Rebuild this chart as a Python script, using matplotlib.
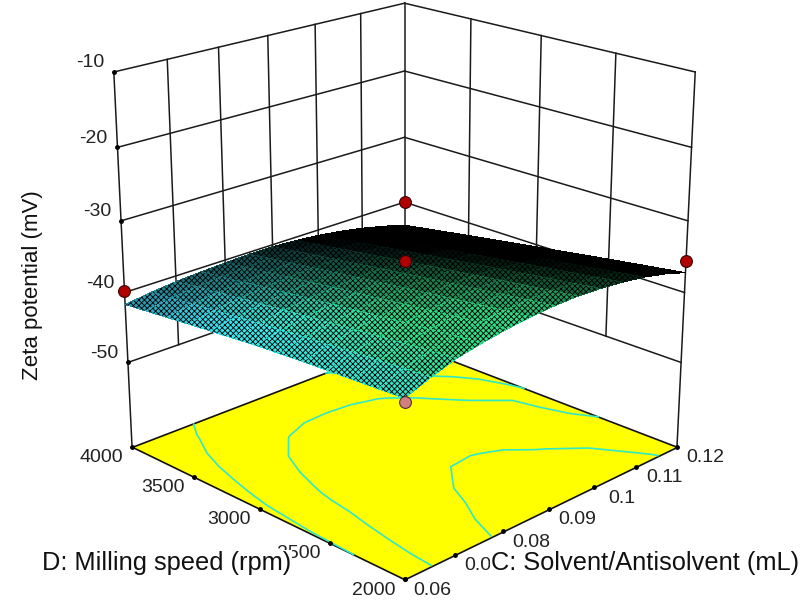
import numpy as np
import matplotlib
matplotlib.use('Agg')
import matplotlib.pyplot as plt
from matplotlib.colors import LinearSegmentedColormap, Normalize
from mpl_toolkits.mplot3d import proj3d
from mpl_toolkits.mplot3d.art3d import Poly3DCollection

plt.rcParams['font.family'] = ['Liberation Sans', 'DejaVu Sans']
plt.rcParams['hatch.linewidth'] = 0.6

# values
solvent = [0.06, 0.065, 0.07, 0.075, 0.08, 0.085, 0.09, 0.095, 0.10, 0.105, 0.11, 0.115, 0.12]
speed = [2000, 2167, 2333, 2500, 2667, 2833, 3000, 3167, 3333, 3500, 3667, 3833, 4000]
zeta = [
    [-38.80, -37.50, -36.40, -35.73, -35.20, -34.83, -34.60, -34.53, -34.70, -35.03, -35.50, -36.23, -37.20],
    [-38.96, -37.72, -36.73, -36.10, -35.60, -35.25, -35.05, -34.99, -35.18, -35.51, -36.01, -36.73, -37.71],
    [-39.11, -37.99, -37.08, -36.47, -36.01, -35.68, -35.49, -35.46, -35.66, -36.01, -36.51, -37.25, -38.21],
    [-39.27, -38.25, -37.42, -36.86, -36.43, -36.11, -35.95, -35.93, -36.15, -36.51, -37.02, -37.76, -38.73],
    [-39.43, -38.52, -37.77, -37.25, -36.84, -36.55, -36.41, -36.41, -36.64, -37.02, -37.54, -38.28, -39.24],
    [-39.64, -38.78, -38.14, -37.66, -37.28, -37.00, -36.88, -36.91, -37.15, -37.53, -38.07, -38.82, -39.78],
    [-39.85, -39.10, -38.50, -38.05, -37.70, -37.45, -37.35, -37.40, -37.65, -38.05, -38.60, -39.35, -40.30],
    [-40.15, -39.43, -38.86, -38.45, -38.13, -37.90, -37.83, -37.90, -38.16, -38.57, -39.14, -39.89, -40.84],
    [-40.44, -39.78, -39.25, -38.87, -38.58, -38.37, -38.31, -38.41, -38.68, -39.11, -39.68, -40.44, -41.38],
    [-40.75, -40.11, -39.62, -39.29, -39.03, -38.83, -38.80, -38.91, -39.20, -39.63, -40.22, -40.99, -41.93],
    [-41.07, -40.46, -40.01, -39.72, -39.48, -39.31, -39.30, -39.43, -39.73, -40.18, -40.78, -41.54, -42.48],
    [-41.38, -40.81, -40.40, -40.14, -39.94, -39.78, -39.79, -39.95, -40.26, -40.72, -41.33, -42.11, -43.04],
    [-41.70, -41.18, -40.80, -40.58, -40.40, -40.28, -40.30, -40.48, -40.80, -41.28, -41.90, -42.68, -43.60],
]
# the field behind the floor contours, read from where they run on the floor
floor_zeta = [
    [-40.80, -39.40, -38.20, -37.43, -36.80, -36.33, -36.00, -35.83, -35.80, -35.93, -36.35, -37.00, -38.00],
    [-40.85, -39.50, -38.41, -37.67, -37.07, -36.63, -36.33, -36.18, -36.19, -36.34, -36.75, -37.40, -38.40],
    [-40.90, -39.65, -38.63, -37.91, -37.34, -36.90, -36.60, -36.50, -36.55, -36.76, -37.15, -37.80, -38.75],
    [-40.95, -39.80, -38.85, -38.16, -37.55, -37.12, -36.85, -36.78, -36.88, -37.19, -37.65, -38.30, -39.20],
    [-41.00, -39.95, -39.07, -38.32, -37.72, -37.33, -37.10, -37.05, -37.20, -37.55, -38.10, -38.70, -39.80],
    [-41.10, -40.10, -39.20, -38.55, -38.00, -37.65, -37.50, -37.50, -37.68, -38.02, -38.55, -39.00, -40.30],
    [-41.20, -40.20, -39.40, -38.75, -38.30, -38.02, -37.90, -37.93, -38.12, -38.48, -38.80, -39.30, -40.75],
    [-41.39, -40.40, -39.60, -39.00, -38.58, -38.35, -38.27, -38.35, -38.57, -38.95, -39.30, -39.60, -41.15],
    [-41.58, -40.65, -39.85, -39.28, -38.90, -38.70, -38.65, -38.78, -38.90, -39.20, -39.70, -40.30, -41.55],
    [-41.78, -40.90, -40.12, -39.58, -39.25, -39.08, -39.05, -39.20, -39.20, -39.55, -40.20, -41.09, -41.93],
    [-41.98, -41.15, -40.45, -39.95, -39.65, -39.50, -39.48, -39.40, -39.70, -40.33, -40.90, -41.61, -42.48],
    [-42.19, -41.43, -40.83, -40.37, -40.07, -39.91, -39.91, -40.06, -40.35, -40.80, -41.39, -42.14, -43.04],
    [-42.40, -41.68, -41.10, -40.68, -40.40, -40.28, -40.30, -40.48, -40.80, -41.28, -41.90, -42.68, -43.60],
]
contour_levels = [-40.9, -39.3, -37.1]

# design points
point_c = [0.06, 0.12, 0.12, 0.09]
point_d = [4000, 4000, 2000, 3000]
point_z = [-39.8, -40.0, -35.6, -35.6]
below_c, below_d, below_z = 0.06, 2000, -39.2

c_ticks = [0.06, 0.07, 0.08, 0.09, 0.1, 0.11, 0.12]
c_labels = ['0.06', '0.07', '0.08', '0.09', '0.1', '0.11', '0.12']
d_ticks = [2000, 2500, 3000, 3500, 4000]
z_ticks = [-50, -40, -30, -20, -10]
z_floor = -62.4

W, H = 810, 602
S, cx, cy = 1000, 391, 279  # square axes in pixels, centre measured from the top left
fig = plt.figure(figsize=(W / 100, H / 100), dpi=100)
ax = fig.add_axes([(cx - S / 2) / W, (H - cy - S / 2) / H, S / W, S / H], projection='3d', computed_zorder=False)
ax.set_proj_type('persp', focal_length=0.4)
ax.view_init(elev=20.5, azim=-135)
ax.set_box_aspect((1, 1, 1.005), zoom=0.67)
ax.set_axis_off()
ax.set_xlim(0.06, 0.12)
ax.set_ylim(2000, 4000)
ax.set_zlim(z_floor, -10)

c0, c1 = c_ticks[0], c_ticks[-1]
d0, d1 = d_ticks[0], d_ticks[-1]
line = dict(color='#1a1a1a', lw=1.1, zorder=1)

# back walls
for z in z_ticks:
    ax.plot([c0, c1], [d1, d1], [z, z], **line)
    ax.plot([c1, c1], [d1, d0], [z, z], **line)
for c in c_ticks[1:-1]:
    ax.plot([c, c], [d1, d1], [-50, -10], **line)
for d in d_ticks[1:-1]:
    ax.plot([c1, c1], [d, d], [-50, -10], **line)
ax.plot([c1, c1], [d1, d1], [-50, -10], **line)
ax.plot([c0, c0], [d1, d1], [z_floor, -10], **line)
ax.plot([c1, c1], [d0, d0], [z_floor, -10], **line)

# floor with the contours
floor = [[(c0, d0, z_floor), (c1, d0, z_floor), (c1, d1, z_floor), (c0, d1, z_floor)]]
ax.add_collection3d(Poly3DCollection(floor, facecolor='#ffff00', edgecolor='#111111', linewidth=1.2, zorder=2))
C, D = np.meshgrid(solvent, speed)
Z = np.array(zeta)
ax.contour(C, D, np.array(floor_zeta), levels=contour_levels, zdir='z', offset=z_floor, colors='#30e8c8',
           linewidths=1.2, linestyles='solid', zorder=3)

# tick dots
ax.plot(c_ticks, [d0] * len(c_ticks), [z_floor] * len(c_ticks), 'o', color='k', ms=2.5, zorder=3)
ax.plot([c0] * len(d_ticks), d_ticks, [z_floor] * len(d_ticks), 'o', color='k', ms=2.5, zorder=3)
ax.plot([c0] * len(z_ticks), [d1] * len(z_ticks), z_ticks, 'o', color='k', ms=2.5, zorder=3)

# back design points sit behind the surface
ax.plot(point_c[:2], point_d[:2], point_z[:2], 'o', mfc='#b00000', mec='#3a0000', ms=8.5, mew=0.8, zorder=4)

# surface: cells that the view squeezes go dark, the mesh closes up there
M = ax.get_proj()
px, py, _ = proj3d.proj_transform(C.ravel(), D.ravel(), Z.ravel(), M)
px, py = px.reshape(C.shape), py.reshape(C.shape)
area = 0.5 * np.abs((px[1:, 1:] - px[:-1, :-1]) * (py[1:, :-1] - py[:-1, 1:])
                    - (px[1:, :-1] - px[:-1, 1:]) * (py[1:, 1:] - py[:-1, :-1]))
shade = np.clip((area / area.max() - 0.25) / 0.35, 0, 1)
cmap = LinearSegmentedColormap.from_list('zeta', ['#3a90c8', '#38e8f0', '#30e088'])
fc = cmap(Normalize(-43.0, -37.0)(Z))
fc[:-1, :-1, :3] *= shade[..., None]
ax.plot_surface(C, D, Z, facecolors=fc, rstride=1, cstride=1, shade=False, linewidth=0,
                edgecolor='k', antialiased=False, hatch='xxxxxx', zorder=5)

# points in front of the surface
ax.plot(point_c[2:], point_d[2:], point_z[2:], 'o', mfc='#b00000', mec='#3a0000', ms=8.5, mew=0.8, zorder=6)
ax.plot([below_c], [below_d], [below_z], 'o', mfc='#d08080', mec='#503030', ms=8.5, mew=0.8, zorder=6)

fig.canvas.draw()


def label(x, y, z, text, dx, dy):
    sx, sy, _ = proj3d.proj_transform(x, y, z, ax.get_proj())
    px0, py0 = ax.transData.transform((sx, sy))
    fig.text((px0 + dx) / W, (py0 - dy) / H, text, fontsize=14, color='#222222',
             ha='center', va='center', zorder=3)


for z in z_ticks:
    label(c0, d1, z, str(z), -24, -9)
for d in d_ticks:
    label(c0, d, z_floor, str(d), -31, 11)
for c, text in zip(c_ticks, c_labels):
    label(c, d0, z_floor, text, 28, 11)

white = dict(facecolor='white', edgecolor='none', pad=0.5)
fig.text(33 / W, 1 - 285 / H, 'Zeta potential (mV)', rotation=90, fontsize=16, color='#111111',
         ha='center', va='center', zorder=4)
fig.text(167 / W, 1 - 563 / H, 'D: Milling speed (rpm)', fontsize=18.3, color='#111111',
         ha='center', va='center', bbox=white, zorder=4)
fig.text(645 / W, 1 - 563 / H, 'C: Solvent/Antisolvent (mL)', fontsize=18.3, color='#111111',
         ha='center', va='center', bbox=white, zorder=4)

fig.savefig('out.png', dpi=100)
